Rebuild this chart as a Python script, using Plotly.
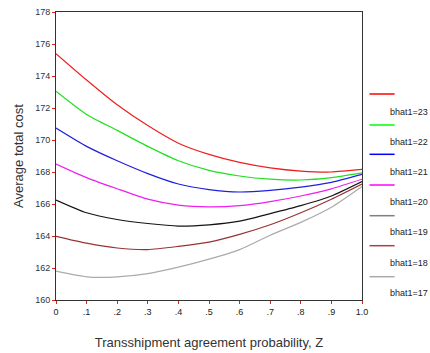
import plotly.graph_objects as go

# Transshipment agreement probability
z_values = [0.0, 0.1, 0.2, 0.3, 0.4, 0.5, 0.6, 0.7, 0.8, 0.9, 1.0]

# Average total cost for each bhat1 level
cost_bhat23 = [175.4, 173.75, 172.2, 170.9, 169.8, 169.1, 168.6, 168.26, 168.06, 168.0, 168.16]
cost_bhat22 = [173.05, 171.6, 170.6, 169.6, 168.7, 168.1, 167.75, 167.55, 167.5, 167.65, 167.95]
cost_bhat21 = [170.75, 169.6, 168.7, 167.9, 167.25, 166.9, 166.75, 166.85, 167.05, 167.35, 167.85]
cost_bhat20 = [168.5, 167.65, 166.95, 166.3, 165.93, 165.82, 165.9, 166.15, 166.5, 166.95, 167.55]
cost_bhat19 = [166.25, 165.45, 165.03, 164.78, 164.62, 164.7, 164.93, 165.4, 165.9, 166.5, 167.4]
cost_bhat18 = [163.98, 163.55, 163.25, 163.15, 163.35, 163.62, 164.1, 164.7, 165.45, 166.3, 167.25]
cost_bhat17 = [161.8, 161.45, 161.45, 161.65, 162.05, 162.55, 163.15, 164.05, 164.85, 165.8, 167.1]

series_names = ["bhat1=23", "bhat1=22", "bhat1=21", "bhat1=20", "bhat1=19", "bhat1=18", "bhat1=17"]
series_values = [cost_bhat23, cost_bhat22, cost_bhat21, cost_bhat20, cost_bhat19, cost_bhat18, cost_bhat17]
line_colors = ["#ee1f1f", "#1fe01f", "#1f1fe0", "#ee1fee", "#151515", "#993333", "#aaaaaa"]
key_colors = ["#ff0000", "#00ff00", "#0000ff", "#ff00ff", "#808080", "#b04040", "#aaaaaa"]

x_tick_vals = z_values
x_tick_text = ["0", ".1", ".2", ".3", ".4", ".5", ".6", ".7", ".8", ".9", "1.0"]
y_tick_vals = [160, 162, 164, 166, 168, 170, 172, 174, 176, 178]

fig = go.Figure()
for name, vals, col in zip(series_names, series_values, line_colors):
    fig.add_trace(go.Scatter(
        x=z_values, y=vals, mode="lines", name=name,
        line=dict(color=col, width=1.2, shape="spline", smoothing=0.6),
        showlegend=False,
    ))

# Hand-built key to the right of the plot: sample line above, label below
key_line_y = [94, 125, 154.3, 185, 215.7, 245.7, 276.7]
key_text_y = [111.7, 141.7, 171.7, 201.7, 232.3, 262.7, 292.7]
plot_left, plot_width = 56.5, 305.0
plot_bottom, plot_height = 300.0, 288.0


def px_to_paper_x(px):
    return (px - plot_left) / plot_width


def px_to_paper_y(py):
    return (plot_bottom - py) / plot_height


for name, col, ly, ty in zip(series_names, key_colors, key_line_y, key_text_y):
    fig.add_shape(type="line", xref="paper", yref="paper",
                  x0=px_to_paper_x(369), x1=px_to_paper_x(394),
                  y0=px_to_paper_y(ly), y1=px_to_paper_y(ly),
                  line=dict(color=col, width=1.5))
    fig.add_annotation(xref="paper", yref="paper",
                       x=px_to_paper_x(387), y=px_to_paper_y(ty),
                       xanchor="left", yanchor="middle", showarrow=False,
                       text=name, font=dict(family="Liberation Sans", size=9, color="#222222"))

fig.update_layout(
    width=430, height=353,
    margin=dict(l=56, r=68, t=12, b=53),
    paper_bgcolor="white", plot_bgcolor="white",
    font=dict(family="Liberation Sans", color="#333333"),
    xaxis=dict(
        range=[0, 1.0], tickvals=x_tick_vals, ticktext=x_tick_text,
        ticks="outside", ticklen=3, tickcolor="#dd2222", tickwidth=1,
        showgrid=False, zeroline=False, automargin=False,
        showline=True, linecolor="#333333", linewidth=1, mirror=True,
        tickfont=dict(family="Liberation Sans", size=9, color="#222222"),
        title=dict(text="Transshipment agreement probability, Z",
                   font=dict(family="Liberation Sans", size=13, color="#333333"),
                   standoff=22),
    ),
    yaxis=dict(
        range=[160, 178], tickvals=y_tick_vals,
        ticks="outside", ticklen=3, tickcolor="#dd2222", tickwidth=1,
        showgrid=False, zeroline=False, automargin=False,
        showline=True, linecolor="#333333", linewidth=1, mirror=True,
        tickfont=dict(family="Liberation Sans", size=9, color="#333333"),
        title=dict(text="Average total cost",
                   font=dict(family="Liberation Sans", size=13, color="#333333"),
                   standoff=8),
    ),
)

fig.write_html("out.html")
